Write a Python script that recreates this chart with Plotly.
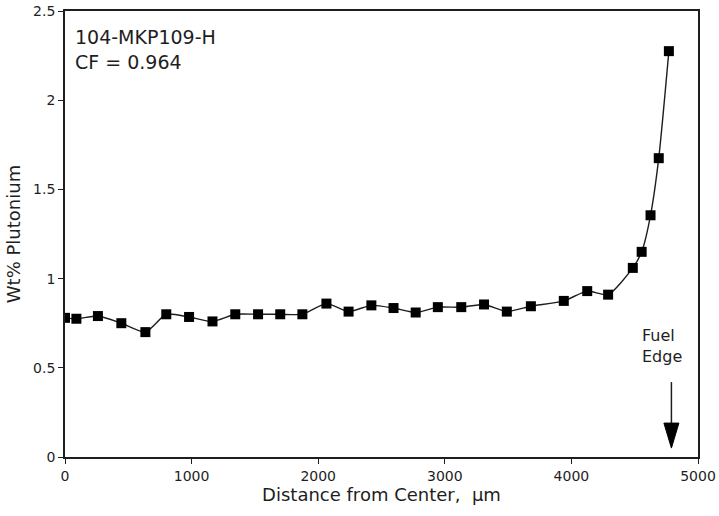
import plotly.graph_objects as go

distance_um = [0, 90, 260, 445, 635, 800, 980, 1165, 1345, 1525, 1700, 1875,
               2065, 2240, 2420, 2595, 2770, 2945, 3130, 3310, 3490, 3680,
               3940, 4125, 4290, 4485, 4555, 4625, 4690, 4770]
wt_pu = [0.78, 0.775, 0.79, 0.75, 0.70, 0.80, 0.785, 0.76, 0.80, 0.80, 0.80, 0.80,
         0.86, 0.815, 0.85, 0.835, 0.81, 0.84, 0.84, 0.855, 0.815, 0.845,
         0.875, 0.93, 0.91, 1.06, 1.15, 1.355, 1.675, 2.275]

x_ticks = [0, 1000, 2000, 3000, 4000, 5000]
y_ticks = [0, 0.5, 1, 1.5, 2, 2.5]
y_ticklabels = ["0", "0.5", "1", "1.5", "2", "2.5"]

fuel_edge_x = 4790

font_family = "DejaVu Sans"
ink = "#1e1e1e"

fig = go.Figure()
fig.add_trace(go.Scatter(
    x=distance_um, y=wt_pu, mode="lines+markers",
    line=dict(color=ink, width=1.4, shape="spline", smoothing=0.6),
    marker=dict(symbol="square", size=10, color="black"),
    showlegend=False,
))

fig.update_layout(
    width=719, height=516,
    margin=dict(l=65, r=21, t=11, b=59),
    paper_bgcolor="white", plot_bgcolor="white",
    font=dict(family=font_family, color=ink, size=14),
    xaxis=dict(range=[0, 5000], tickvals=x_ticks, showgrid=False, zeroline=False,
               showline=True, linecolor=ink, linewidth=1.8, mirror=True,
               ticks="outside", ticklen=5, tickcolor=ink, automargin=False,
               tickfont=dict(size=14, family=font_family),
               title=dict(text="Distance from Center,  μm", font=dict(size=18), standoff=5)),
    yaxis=dict(range=[0, 2.5], tickvals=y_ticks, ticktext=y_ticklabels, showgrid=False,
               zeroline=False, showline=True, linecolor=ink, linewidth=1.8, mirror=True,
               ticks="outside", ticklen=5, tickcolor=ink, automargin=False,
               tickfont=dict(size=14, family=font_family),
               title=dict(text="Wt% Plutonium", font=dict(size=18), standoff=8)),
)

fig.add_annotation(x=0.012, y=0.97, xref="paper", yref="paper", xanchor="left", yanchor="top",
                   text="104-MKP109-H<br>CF = 0.964", showarrow=False, align="left",
                   font=dict(size=19, family=font_family, color=ink))
fig.add_annotation(x=4545, y=0.62, xref="x", yref="y", xanchor="left", yanchor="middle",
                   text="Fuel<br>Edge", showarrow=False, align="left",
                   font=dict(size=16, family=font_family, color=ink))

# arrow shaft and head, drawn in pixels relative to the fuel edge position
fig.add_shape(type="line", xref="x", yref="y", xsizemode="pixel", ysizemode="pixel",
              xanchor=fuel_edge_x, yanchor=0.05, x0=0, x1=0, y0=20, y1=66,
              line=dict(color=ink, width=1.5))
fig.add_shape(type="path", xref="x", yref="y", xsizemode="pixel", ysizemode="pixel",
              xanchor=fuel_edge_x, yanchor=0.05, path="M-7.5,25 L7.5,25 L0,0 Z",
              fillcolor="black", line=dict(color="black", width=1))

fig.write_html("out.html")
